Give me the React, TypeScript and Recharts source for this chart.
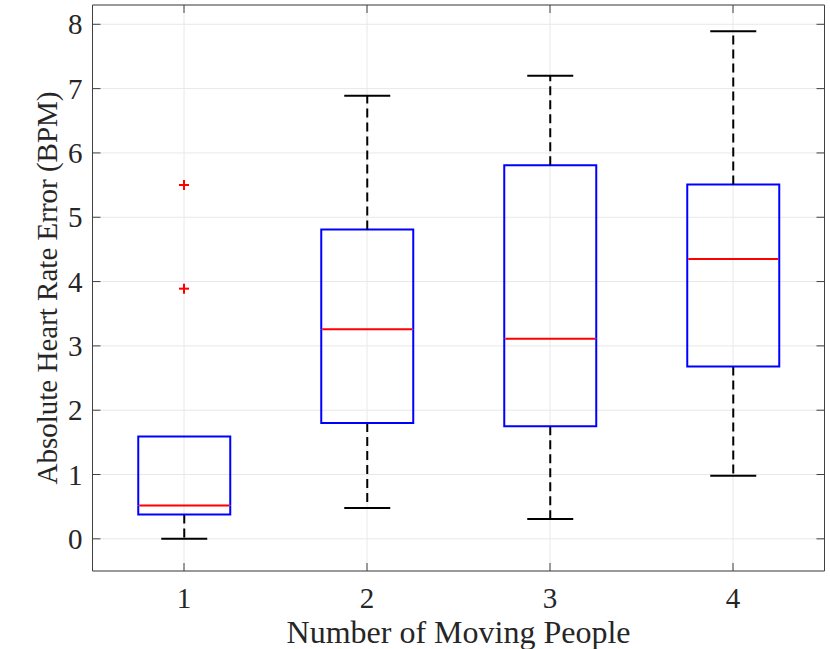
import React from 'react';
import { ComposedChart, Bar, Line, XAxis, YAxis, CartesianGrid, ReferenceLine } from 'recharts';

// Boxplot statistics (one entry per group)
const groups = ['1', '2', '3', '4'];
const lowerWhisker = [0.0, 0.48, 0.31, 0.98];
const q1 = [0.38, 1.8, 1.75, 2.68];
const median = [0.52, 3.26, 3.11, 4.35];
const q3 = [1.59, 4.81, 5.81, 5.51];
const upperWhisker = [1.59, 6.89, 7.2, 7.89];
const outlierA = [5.5, null, null, null];
const outlierB = [3.89, null, null, null];

const yTicks = [0, 1, 2, 3, 4, 5, 6, 7, 8];
const yDomain = [-0.5, 8.3];

const AXIS = '#404040';
const FONT = '"Liberation Serif", "Times New Roman", serif';
const TICK_LEN = 8;

const data = groups.map((name, i) => ({
    name,
    base: lowerWhisker[i],
    lowW: q1[i] - lowerWhisker[i],
    boxLow: median[i] - q1[i],
    boxHigh: q3[i] - median[i],
    upW: upperWhisker[i] - q3[i],
    outA: outlierA[i],
    outB: outlierB[i],
}));

const Empty = () => <g />;

const LowerWhisker = (props: any) => {
    const { x, y, width, height } = props;
    if (!(height > 0)) return <g />;
    const cx = x + width / 2;
    const cap = width / 4;
    return (
        <g>
            <line x1={cx} x2={cx} y1={y} y2={y + height} stroke="#000" strokeWidth={2} strokeDasharray="9 5" />
            <line x1={cx - cap} x2={cx + cap} y1={y + height} y2={y + height} stroke="#000" strokeWidth={2} />
        </g>
    );
};

const UpperWhisker = (props: any) => {
    const { x, y, width, height } = props;
    if (!(height > 0)) return <g />;
    const cx = x + width / 2;
    const cap = width / 4;
    return (
        <g>
            <line x1={cx} x2={cx} y1={y + height} y2={y} stroke="#000" strokeWidth={2} strokeDasharray="9 5" />
            <line x1={cx - cap} x2={cx + cap} y1={y} y2={y} stroke="#000" strokeWidth={2} />
        </g>
    );
};

const BoxLow = (props: any) => {
    const { x, y, width, height } = props;
    return (
        <path
            d={`M${x},${y} L${x},${y + height} L${x + width},${y + height} L${x + width},${y}`}
            fill="none"
            stroke="#0000ff"
            strokeWidth={2}
        />
    );
};

const BoxHigh = (props: any) => {
    const { x, y, width, height } = props;
    return (
        <g>
            <path
                d={`M${x},${y + height} L${x},${y} L${x + width},${y} L${x + width},${y + height}`}
                fill="none"
                stroke="#0000ff"
                strokeWidth={2}
            />
            <line x1={x + 1} x2={x + width - 1} y1={y + height} y2={y + height} stroke="#ff0000" strokeWidth={2} />
        </g>
    );
};

const PlusDot = (props: any) => {
    const { cx, cy, key } = props;
    if (cy == null || isNaN(cy)) return <g key={key} />;
    return (
        <g key={key}>
            <line x1={cx - 5} x2={cx + 5} y1={cy} y2={cy} stroke="#ff0000" strokeWidth={2} />
            <line x1={cx} x2={cx} y1={cy - 5} y2={cy + 5} stroke="#ff0000" strokeWidth={2} />
        </g>
    );
};

const YTickLeft = (props: any) => {
    const { x, y, payload } = props;
    return (
        <g>
            <line x1={x} x2={x + TICK_LEN} y1={y} y2={y} stroke={AXIS} />
            <text x={x - 10} y={y} dy="0.35em" textAnchor="end" fontFamily={FONT} fontSize={29} fill="#262626">
                {payload.value}
            </text>
        </g>
    );
};

const YTickRight = (props: any) => {
    const { x, y } = props;
    return <line x1={x - TICK_LEN} x2={x} y1={y} y2={y} stroke={AXIS} />;
};

const XTick = (props: any) => {
    const { x, y, payload } = props;
    return (
        <g>
            <line x1={x} x2={x} y1={y} y2={y - TICK_LEN} stroke={AXIS} />
            <text x={x} y={y + 37} textAnchor="middle" fontFamily={FONT} fontSize={29} fill="#262626">
                {payload.value}
            </text>
        </g>
    );
};

const XLabel = (props: any) => {
    const { x, y, width } = props.viewBox;
    return (
        <text x={x + width / 2} y={y + 72} textAnchor="middle" fontFamily={FONT} fontSize={32} fill="#262626">
            Number of Moving People
        </text>
    );
};

const YLabel = (props: any) => {
    const { x, y, height } = props.viewBox;
    const lx = x + 57;
    const ly = y + height / 2;
    return (
        <text
            x={lx}
            y={ly}
            transform={`rotate(-90, ${lx}, ${ly})`}
            textAnchor="middle"
            fontFamily={FONT}
            fontSize={29}
            fill="#262626"
        >
            Absolute Heart Rate Error (BPM)
        </text>
    );
};

export default function App() {
    const topTickY = yDomain[1] - TICK_LEN / 64.4;
    return (
        <div style={{ position: 'absolute', left: 0, top: 0, background: '#fff' }}>
            <ComposedChart
                width={830}
                height={649}
                data={data}
                margin={{ top: 5, right: 0, bottom: 0, left: 0 }}
                barCategoryGap="25%"
            >
                <CartesianGrid stroke="#e8e8e8" />
                <XAxis
                    dataKey="name"
                    height={78}
                    interval={0}
                    tickSize={0}
                    tickMargin={0}
                    tickLine={false}
                    axisLine={{ stroke: AXIS }}
                    tick={<XTick />}
                    label={<XLabel />}
                />
                <YAxis
                    type="number"
                    domain={yDomain}
                    ticks={yTicks}
                    allowDataOverflow
                    width={92.5}
                    tickSize={0}
                    tickMargin={0}
                    tickLine={false}
                    axisLine={{ stroke: AXIS }}
                    tick={<YTickLeft />}
                    label={<YLabel />}
                />
                <YAxis
                    yAxisId="right"
                    orientation="right"
                    type="number"
                    domain={yDomain}
                    ticks={yTicks}
                    allowDataOverflow
                    width={5.5}
                    tickSize={0}
                    tickMargin={0}
                    tickLine={false}
                    axisLine={{ stroke: AXIS }}
                    tick={<YTickRight />}
                />
                <ReferenceLine y={yDomain[1]} stroke={AXIS} />
                {groups.map((g) => (
                    <ReferenceLine
                        key={g}
                        segment={[
                            { x: g, y: yDomain[1] },
                            { x: g, y: topTickY },
                        ]}
                        stroke={AXIS}
                    />
                ))}
                <Bar dataKey="base" stackId="box" shape={<Empty />} isAnimationActive={false} />
                <Bar dataKey="lowW" stackId="box" shape={<LowerWhisker />} isAnimationActive={false} />
                <Bar dataKey="boxLow" stackId="box" shape={<BoxLow />} isAnimationActive={false} />
                <Bar dataKey="boxHigh" stackId="box" shape={<BoxHigh />} isAnimationActive={false} />
                <Bar dataKey="upW" stackId="box" shape={<UpperWhisker />} isAnimationActive={false} />
                <Line dataKey="outA" stroke="none" dot={PlusDot} activeDot={false} isAnimationActive={false} />
                <Line dataKey="outB" stroke="none" dot={PlusDot} activeDot={false} isAnimationActive={false} />
            </ComposedChart>
        </div>
    );
}
